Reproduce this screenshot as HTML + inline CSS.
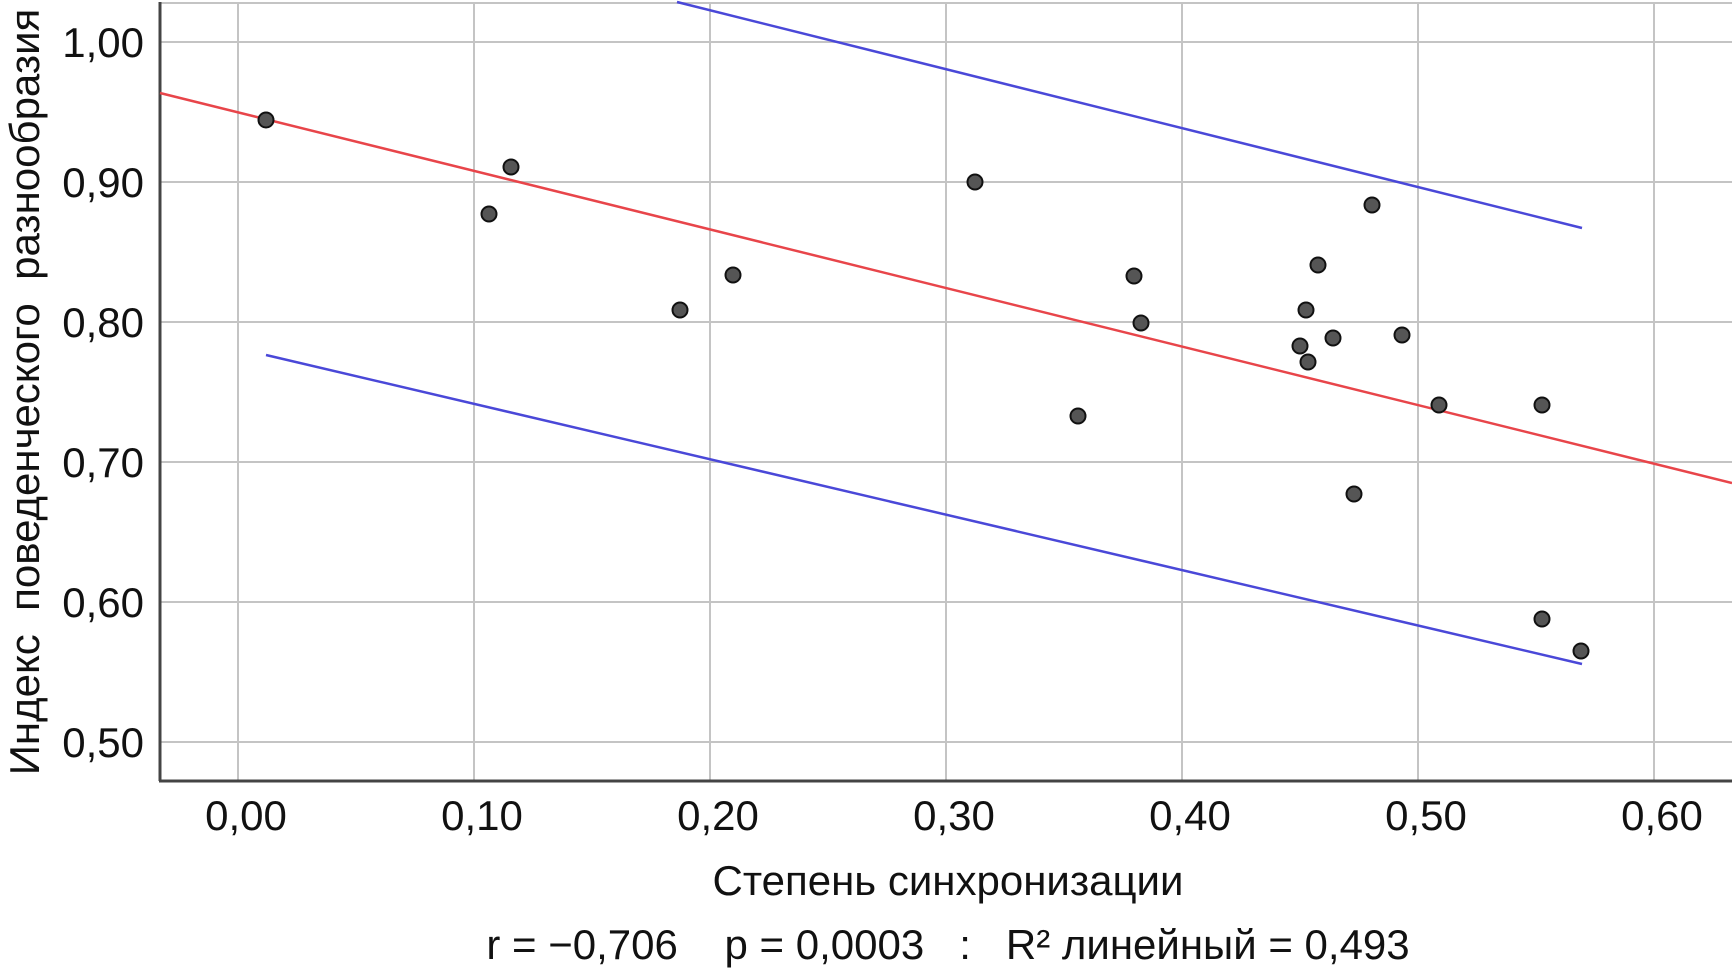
<!DOCTYPE html>
<html><head><meta charset="utf-8"><style>html,body{margin:0;padding:0;background:#fff}</style></head>
<body>
<svg width="1732" height="974" xmlns="http://www.w3.org/2000/svg" font-family="Liberation Sans, DejaVu Sans, sans-serif" fill="#111">
<g stroke="#c4c4c4" stroke-width="2">
<line x1="238" y1="3" x2="238" y2="781"/><line x1="474" y1="3" x2="474" y2="781"/><line x1="710" y1="3" x2="710" y2="781"/><line x1="946" y1="3" x2="946" y2="781"/><line x1="1182" y1="3" x2="1182" y2="781"/><line x1="1418" y1="3" x2="1418" y2="781"/><line x1="1654" y1="3" x2="1654" y2="781"/>
<line x1="159" y1="742" x2="1732" y2="742"/><line x1="159" y1="602" x2="1732" y2="602"/><line x1="159" y1="462" x2="1732" y2="462"/><line x1="159" y1="322" x2="1732" y2="322"/><line x1="159" y1="182" x2="1732" y2="182"/><line x1="159" y1="42" x2="1732" y2="42"/>
<line x1="159" y1="3" x2="1732" y2="3"/>
</g>
<g stroke="#444" stroke-width="3"><line x1="160" y1="2" x2="160" y2="781"/><line x1="159" y1="781" x2="1732" y2="781"/></g>
<line x1="160" y1="93" x2="1732" y2="483" stroke="#e8454a" stroke-width="2.5"/>
<line x1="677" y1="2" x2="1582" y2="228" stroke="#4a48d8" stroke-width="2.5"/>
<line x1="266" y1="355" x2="1582" y2="664" stroke="#4a48d8" stroke-width="2.5"/>
<g fill="#555" stroke="#111" stroke-width="2">
<circle cx="266" cy="120" r="7.5"/><circle cx="511" cy="167" r="7.5"/><circle cx="489" cy="214" r="7.5"/><circle cx="680" cy="310" r="7.5"/><circle cx="733" cy="275" r="7.5"/><circle cx="975" cy="182" r="7.5"/><circle cx="1078" cy="416" r="7.5"/><circle cx="1134" cy="276" r="7.5"/><circle cx="1141" cy="323" r="7.5"/><circle cx="1300" cy="346" r="7.5"/><circle cx="1306" cy="310" r="7.5"/><circle cx="1308" cy="362" r="7.5"/><circle cx="1318" cy="265" r="7.5"/><circle cx="1333" cy="338" r="7.5"/><circle cx="1354" cy="494" r="7.5"/><circle cx="1372" cy="205" r="7.5"/><circle cx="1402" cy="335" r="7.5"/><circle cx="1439" cy="405" r="7.5"/><circle cx="1542" cy="405" r="7.5"/><circle cx="1542" cy="619" r="7.5"/><circle cx="1581" cy="651" r="7.5"/>
</g>
<g font-size="42" text-anchor="end">
<text x="144" y="757">0,50</text><text x="144" y="617">0,60</text><text x="144" y="477">0,70</text><text x="144" y="337">0,80</text><text x="144" y="197">0,90</text><text x="144" y="57">1,00</text>
</g>
<g font-size="42" text-anchor="middle">
<text x="246" y="830">0,00</text><text x="482" y="830">0,10</text><text x="718" y="830">0,20</text><text x="954" y="830">0,30</text><text x="1190" y="830">0,40</text><text x="1426" y="830">0,50</text><text x="1662" y="830">0,60</text>
<text x="948" y="895">Степень синхронизации</text>
<text x="948" y="959" xml:space="preserve">r = −0,706    p = 0,0003   :   R² линейный = 0,493</text>
</g>
<text x="0" y="0" font-size="42" text-anchor="middle" transform="translate(39,392) rotate(-90)" xml:space="preserve">Индекс  поведенческого  разнообразия</text>
</svg>
</body></html>
